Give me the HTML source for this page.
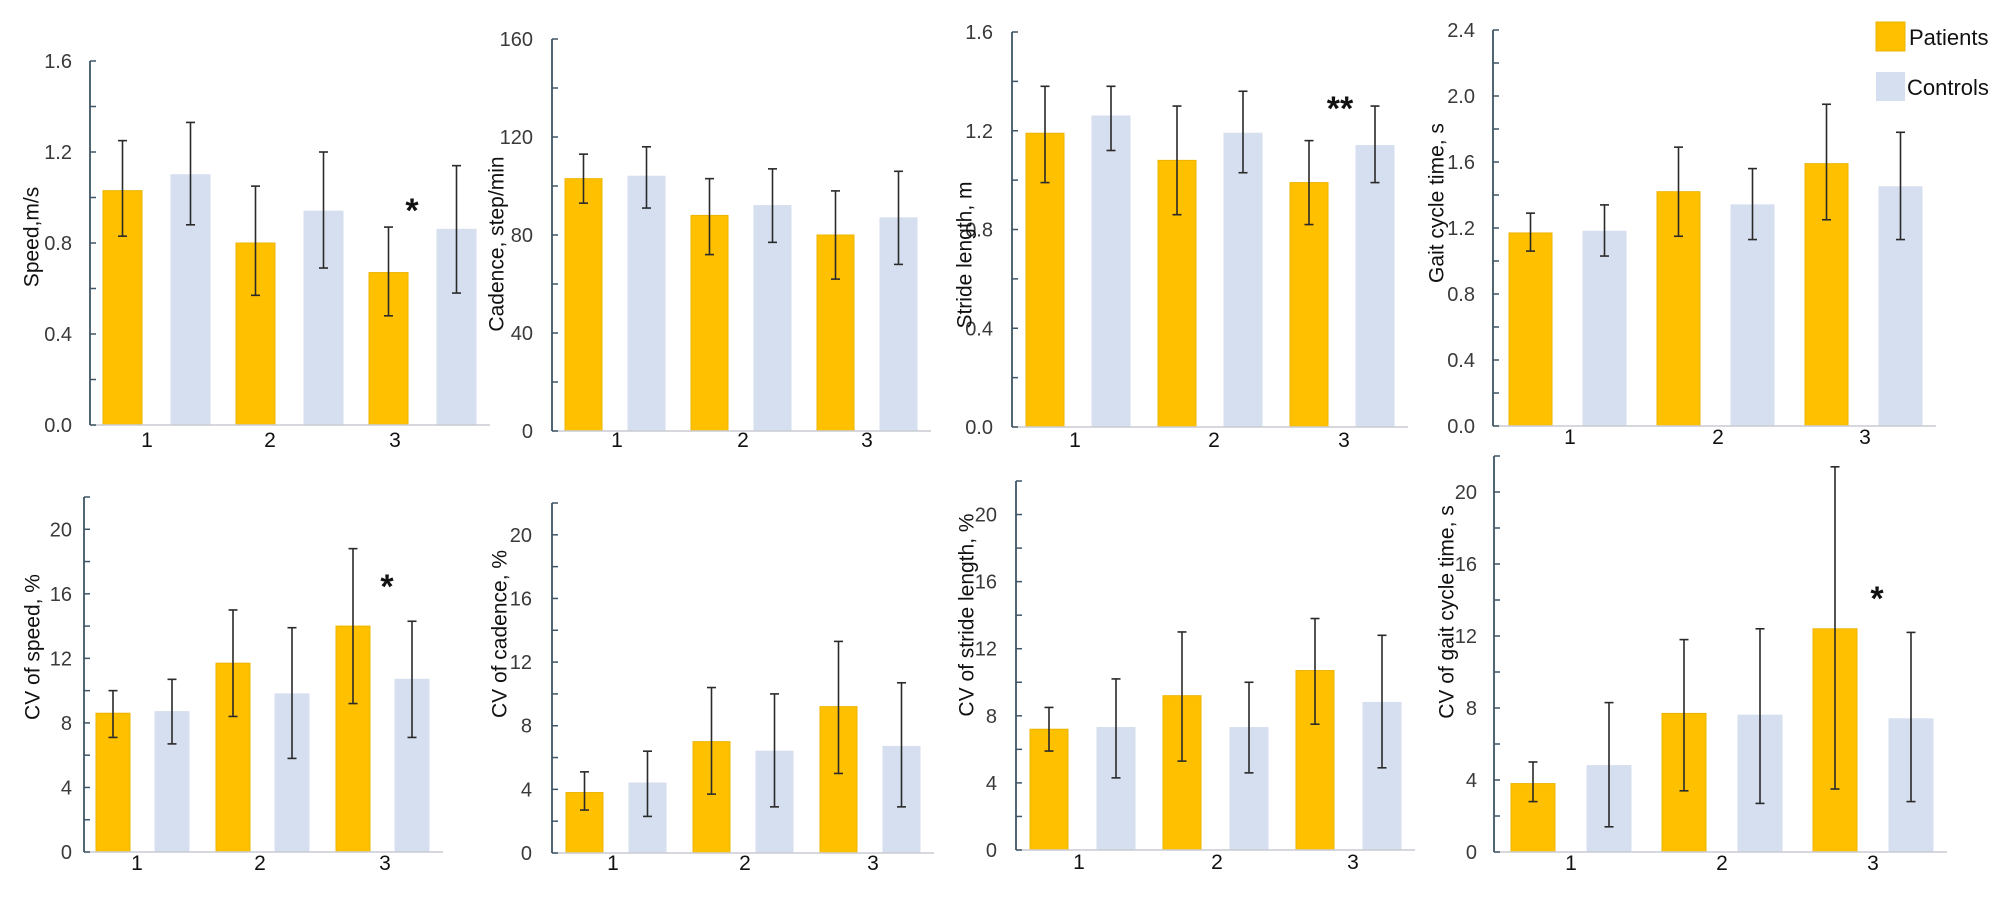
<!DOCTYPE html>
<html><head><meta charset="utf-8">
<style>
html,body{margin:0;padding:0;background:#fff;}
svg{display:block;font-family:"Liberation Sans",Arial,sans-serif;}
</style></head>
<body>
<svg id="fig" width="2008" height="899" viewBox="0 0 2008 899">
  <g>
    <rect x="1876" y="22" width="29" height="29" fill="#FFC000" stroke="#E8B400"/>
    <text x="1909" y="45" font-size="22" fill="#111">Patients</text>
    <rect x="1876" y="72" width="29" height="29" fill="#D6DFEF"/>
    <text x="1907" y="95" font-size="22" fill="#111">Controls</text>
  </g>
</svg>
<script>
// ---- data ----
const categories = ["1","2","3"];

const speedPatients = [1.03, 0.80, 0.67];
const speedPatientsHi = [1.25, 1.05, 0.87];
const speedPatientsLo = [0.83, 0.57, 0.48];
const speedControls = [1.10, 0.94, 0.86];
const speedControlsHi = [1.33, 1.20, 1.14];
const speedControlsLo = [0.88, 0.69, 0.58];

const cadencePatients = [103, 88, 80];
const cadencePatientsHi = [113, 103, 98];
const cadencePatientsLo = [93, 72, 62];
const cadenceControls = [104, 92, 87];
const cadenceControlsHi = [116, 107, 106];
const cadenceControlsLo = [91, 77, 68];

const stridePatients = [1.19, 1.08, 0.99];
const stridePatientsHi = [1.38, 1.30, 1.16];
const stridePatientsLo = [0.99, 0.86, 0.82];
const strideControls = [1.26, 1.19, 1.14];
const strideControlsHi = [1.38, 1.36, 1.30];
const strideControlsLo = [1.12, 1.03, 0.99];

const gaitPatients = [1.17, 1.42, 1.59];
const gaitPatientsHi = [1.29, 1.69, 1.95];
const gaitPatientsLo = [1.06, 1.15, 1.25];
const gaitControls = [1.18, 1.34, 1.45];
const gaitControlsHi = [1.34, 1.56, 1.78];
const gaitControlsLo = [1.03, 1.13, 1.13];

const cvSpeedPatients = [8.6, 11.7, 14.0];
const cvSpeedPatientsHi = [10.0, 15.0, 18.8];
const cvSpeedPatientsLo = [7.1, 8.4, 9.2];
const cvSpeedControls = [8.7, 9.8, 10.7];
const cvSpeedControlsHi = [10.7, 13.9, 14.3];
const cvSpeedControlsLo = [6.7, 5.8, 7.1];

const cvCadencePatients = [3.8, 7.0, 9.2];
const cvCadencePatientsHi = [5.1, 10.4, 13.3];
const cvCadencePatientsLo = [2.7, 3.7, 5.0];
const cvCadenceControls = [4.4, 6.4, 6.7];
const cvCadenceControlsHi = [6.4, 10.0, 10.7];
const cvCadenceControlsLo = [2.3, 2.9, 2.9];

const cvStridePatients = [7.2, 9.2, 10.7];
const cvStridePatientsHi = [8.5, 13.0, 13.8];
const cvStridePatientsLo = [5.9, 5.3, 7.5];
const cvStrideControls = [7.3, 7.3, 8.8];
const cvStrideControlsHi = [10.2, 10.0, 12.8];
const cvStrideControlsLo = [4.3, 4.6, 4.9];

const cvGaitPatients = [3.8, 7.7, 12.4];
const cvGaitPatientsHi = [5.0, 11.8, 21.4];
const cvGaitPatientsLo = [2.8, 3.4, 3.5];
const cvGaitControls = [4.8, 7.6, 7.4];
const cvGaitControlsHi = [8.3, 12.4, 12.2];
const cvGaitControlsLo = [1.4, 2.7, 2.8];

const speedTicks = [0, 0.4, 0.8, 1.2, 1.6];
const cadenceTicks = [0, 40, 80, 120, 160];
const strideTicks = [0, 0.4, 0.8, 1.2, 1.6];
const gaitTicks = [0, 0.4, 0.8, 1.2, 1.6, 2.0, 2.4];
const cvTicks = [0, 4, 8, 12, 16, 20];

// ---- layout ----
const panels = [
 {name:"speed", title:"Speed,m/s", P:speedPatients,PH:speedPatientsHi,PL:speedPatientsLo,C:speedControls,CH:speedControlsHi,CL:speedControlsLo,
  ticks:speedTicks, dec:1, minor:0.2, max:1.6, yTop:61, yZero:425, ax:90, x0:103, bw:39, coff:68, gstep:133,
  labX:[147,270,395], labY:447, tx:32, ty:237, gap:18, star:{t:"*",x:412,y:222}},
 {name:"cadence", title:"Cadence, step/min", P:cadencePatients,PH:cadencePatientsHi,PL:cadencePatientsLo,C:cadenceControls,CH:cadenceControlsHi,CL:cadenceControlsLo,
  ticks:cadenceTicks, dec:0, minor:20, max:160, yTop:39, yZero:431, ax:552, x0:565, bw:37, coff:63, gstep:126,
  labX:[617,743,867], labY:447, tx:497, ty:244, gap:19},
 {name:"stride", title:"Stride length, m", P:stridePatients,PH:stridePatientsHi,PL:stridePatientsLo,C:strideControls,CH:strideControlsHi,CL:strideControlsLo,
  ticks:strideTicks, dec:1, minor:0.2, max:1.6, yTop:32, yZero:427, ax:1012, x0:1026, bw:38, coff:66, gstep:132,
  labX:[1075,1214,1344], labY:447, tx:965, ty:255, gap:19, star:{t:"**",x:1340,y:120}},
 {name:"gait", title:"Gait cycle time, s", P:gaitPatients,PH:gaitPatientsHi,PL:gaitPatientsLo,C:gaitControls,CH:gaitControlsHi,CL:gaitControlsLo,
  ticks:gaitTicks, dec:1, minor:0.2, max:2.4, yTop:30, yZero:426, ax:1493, x0:1509, bw:43, coff:74, gstep:148,
  labX:[1570,1718,1865], labY:444, tx:1437, ty:203, gap:18},
 {name:"cv-speed", title:"CV of speed, %", P:cvSpeedPatients,PH:cvSpeedPatientsHi,PL:cvSpeedPatientsLo,C:cvSpeedControls,CH:cvSpeedControlsHi,CL:cvSpeedControlsLo,
  ticks:cvTicks, dec:0, minor:2, max:22, yTop:497, yZero:852, ax:84, x0:96, bw:34, coff:59, gstep:120,
  labX:[137,260,385], labY:870, tx:33, ty:647, gap:12, star:{t:"*",x:387,y:598}},
 {name:"cv-cadence", title:"CV of cadence, %", P:cvCadencePatients,PH:cvCadencePatientsHi,PL:cvCadencePatientsLo,C:cvCadenceControls,CH:cvCadenceControlsHi,CL:cvCadenceControlsLo,
  ticks:cvTicks, dec:0, minor:2, max:22, yTop:503, yZero:853, ax:552, x0:566, bw:37, coff:63, gstep:127,
  labX:[613,745,873], labY:870, tx:500, ty:634, gap:20},
 {name:"cv-stride", title:"CV of stride length, %", P:cvStridePatients,PH:cvStridePatientsHi,PL:cvStridePatientsLo,C:cvStrideControls,CH:cvStrideControlsHi,CL:cvStrideControlsLo,
  ticks:cvTicks, dec:0, minor:2, max:22, yTop:481, yZero:850, ax:1016, x0:1030, bw:38, coff:67, gstep:133,
  labX:[1079,1217,1353], labY:869, tx:967, ty:615, gap:19},
 {name:"cv-gait", title:"CV of gait cycle time, s", P:cvGaitPatients,PH:cvGaitPatientsHi,PL:cvGaitPatientsLo,C:cvGaitControls,CH:cvGaitControlsHi,CL:cvGaitControlsLo,
  ticks:cvTicks, dec:0, minor:2, max:22, yTop:456, yZero:852, ax:1494, x0:1511, bw:44, coff:76, gstep:151,
  labX:[1571,1722,1873], labY:870, tx:1447, ty:612, gap:17, star:{t:"*",x:1877,y:610}}
];

const NS = "http://www.w3.org/2000/svg";
const svg = document.getElementById("fig");
function mk(tag, attrs, parent){
  const e = document.createElementNS(NS, tag);
  for (const k in attrs) e.setAttribute(k, attrs[k]);
  parent.appendChild(e);
  return e;
}

panels.forEach(p => {
  const g = mk("g", {}, svg);
  
  
  const y = v => p.yZero - (v / p.max) * (p.yZero - p.yTop);
  const lastRight = p.x0 + 2 * p.gstep + p.coff + p.bw;

  // bars
  [[p.P,p.PH,p.PL,"#FFC000","#EDB300","patients"],[p.C,p.CH,p.CL,"#D6DFEF","#D6DFEF","controls"]].forEach((s, si) => {
    s[0].forEach((v, i) => {
      const bx = p.x0 + i * p.gstep + si * p.coff;
      const r = mk("rect", {x:bx, y:y(v), width:p.bw, height:p.yZero - y(v), fill:s[3], stroke:s[4], "stroke-width":1}, g);
      
      
      const cx = bx + p.bw / 2;
      const eg = mk("g", {stroke:"#2a2a2a", "stroke-width":1.6, fill:"none"}, g);
      
      
      mk("line", {x1:cx, x2:cx, y1:y(s[1][i]), y2:y(s[2][i])}, eg);
      mk("line", {x1:cx-4.5, x2:cx+4.5, y1:y(s[1][i]), y2:y(s[1][i])}, eg);
      mk("line", {x1:cx-4.5, x2:cx+4.5, y1:y(s[2][i]), y2:y(s[2][i])}, eg);
    });
  });

  // x axis
  const xa = mk("line", {x1:p.ax, x2:lastRight + 14, y1:p.yZero, y2:p.yZero, stroke:"#C8CCD2", "stroke-width":1.5}, g);
  
  
  // y axis
  const ya = mk("line", {x1:p.ax, x2:p.ax, y1:p.yTop, y2:p.yZero, stroke:"#3E5566", "stroke-width":1.8}, g);
  
  
  for (let v = 0; v <= p.max + 1e-9; v += p.minor) {
    mk("line", {x1:p.ax, x2:p.ax + 6, y1:y(v), y2:y(v), stroke:"#3E5566", "stroke-width":1.5}, g);
  }
  p.ticks.forEach(t => {
    const tl = mk("text", {x:p.ax - p.gap, y:y(t) + 7, "text-anchor":"end", "font-size":20, fill:"#3a3a3a"}, g);
    tl.textContent = t.toFixed(p.dec);
    
    
  });
  categories.forEach((c, i) => {
    const cl = mk("text", {x:p.labX[i], y:p.labY, "text-anchor":"middle", "font-size":21, fill:"#111"}, g);
    cl.textContent = c;
    
    
  });
  const tt = mk("text", {x:p.tx, y:p.ty, "text-anchor":"middle", "font-size":21, fill:"#111",
    transform:"rotate(-90 " + p.tx + " " + p.ty + ")", "dominant-baseline":"central"}, g);
  tt.textContent = p.title;
  
  
  if (p.star) {
    const st = mk("text", {x:p.star.x, y:p.star.y, "text-anchor":"middle", "font-size":34, "font-weight":"bold", fill:"#111"}, g);
    st.textContent = p.star.t;
    
    
  }
});
</script>
</body></html>
